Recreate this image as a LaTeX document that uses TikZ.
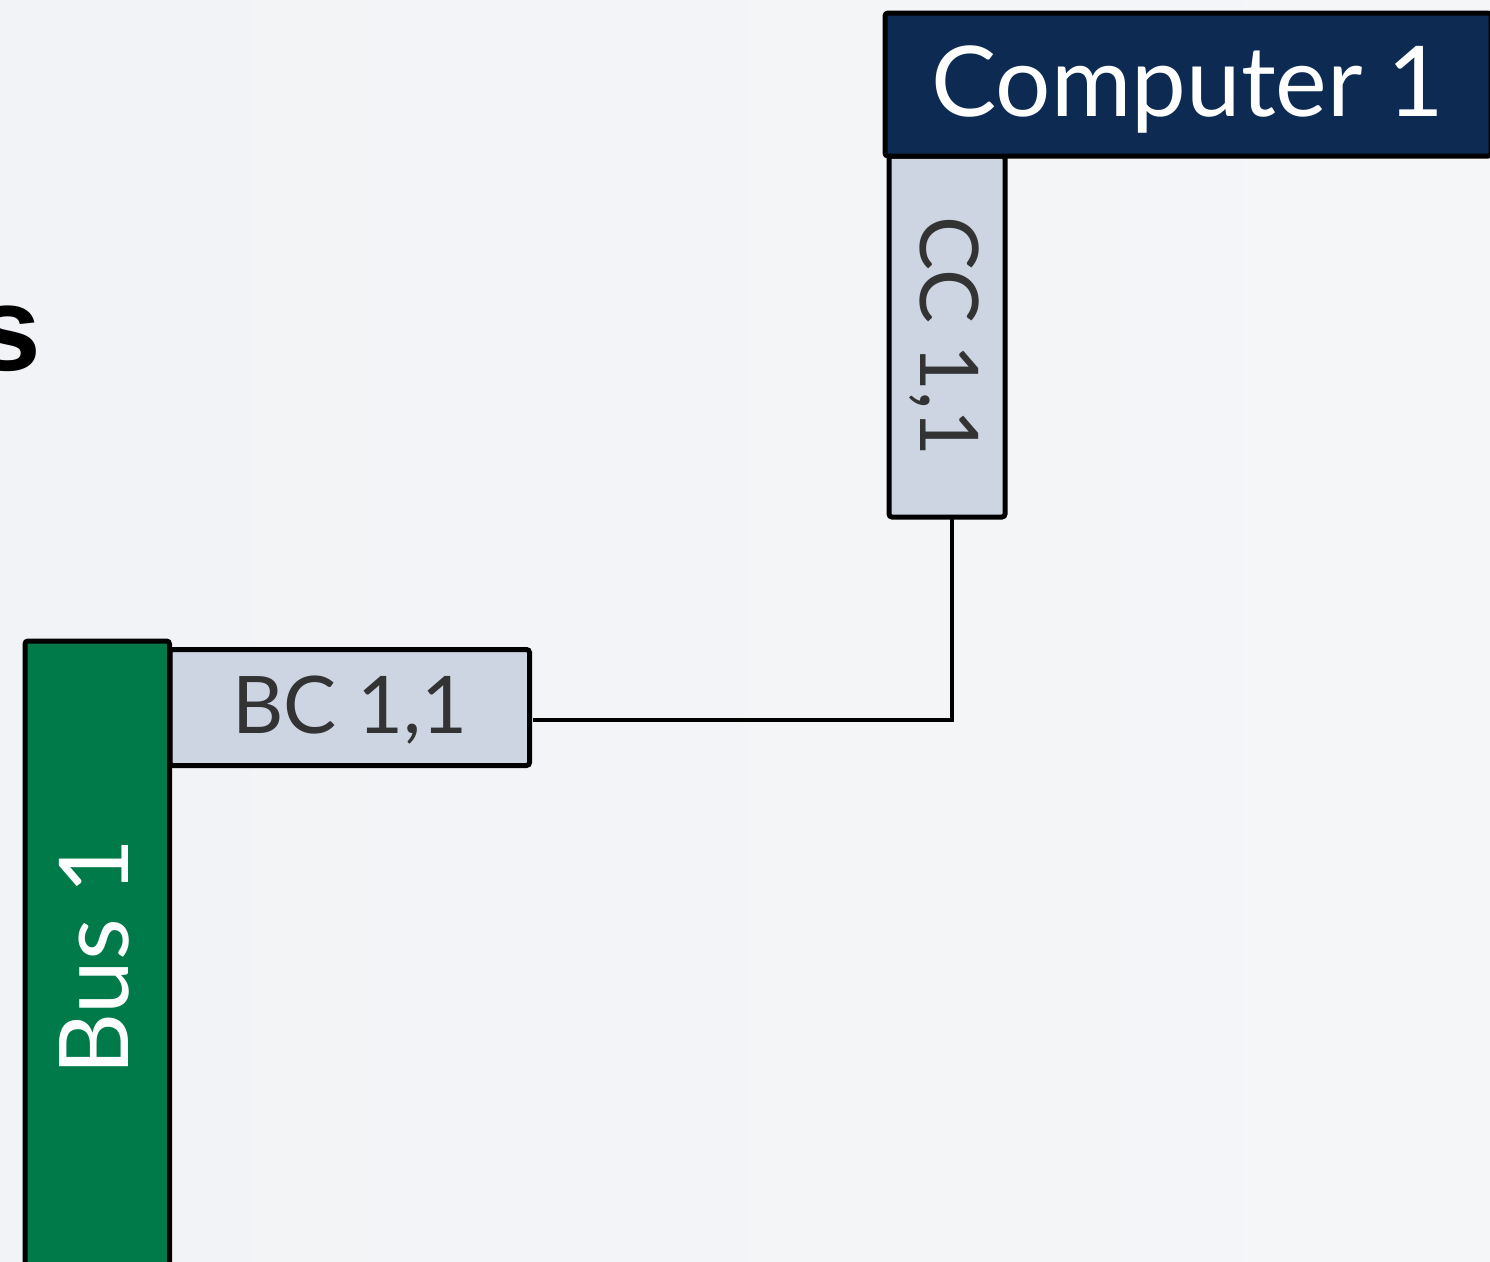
\documentclass[tikz,border=0pt]{standalone}
\usepackage{fontspec}
\setmainfont{Lato}
\newfontfamily\titlefont{Liberation Sans}
\definecolor{bgcol}{HTML}{F2F3F6}
\definecolor{bgcolB}{HTML}{F5F6F8}
\definecolor{navy}{HTML}{0C2A52}
\definecolor{busgreen}{HTML}{007A48}
\definecolor{connfill}{HTML}{CED5E2}
\definecolor{labelgray}{HTML}{333333}
\tikzset{
  box/.style={draw=black, line width=5pt, rounded corners=3pt, inner sep=0pt, outer sep=0pt},
  compbox/.style={box, fill=navy, text=white},
  busbox/.style={box, fill=busgreen, text=white},
  connbox/.style={box, fill=connfill, text=labelgray},
  conn/.style={draw=black, line width=3.5pt},
}
\begin{document}
\begin{tikzpicture}[x=1pt,y=-1pt]
\useasboundingbox (0,0) rectangle (1490,1261);
\clip (0,0) rectangle (1490,1261);
\shade[left color=bgcol, right color=bgcolB] (0,0) rectangle (1490,1261);

% title fragment
\node[anchor=base west, inner sep=0pt, font=\titlefont\bfseries\fontsize{120}{130}\selectfont] (title) at (-26,370) {s};

% computer connector and computer
\node[connbox, rotate=-90, minimum width=361pt, minimum height=116pt,
      text height=58pt, text depth=4pt, font=\fontsize{81}{90}\selectfont] (cc) at (947,336.5) {CC 1,1};
\node[compbox, minimum width=606pt, minimum height=143pt,
      text height=70pt, text depth=6pt, font=\fontsize{97.7}{110}\selectfont] (comp) at (1188,84.5) {Computer 1};

% bus connector and bus
\node[connbox, minimum width=359.5pt, minimum height=116pt,
      text height=57pt, text depth=6pt, font=\fontsize{79.5}{90}\selectfont] (bc) at (349.75,707.5) {BC 1,1};
\node[busbox, rotate=90, minimum width=632pt, minimum height=144.5pt,
      text height=69pt, text depth=7.5pt, font=\fontsize{96.3}{110}\selectfont] (bus) at (97.25,957) {Bus 1};

% link
\draw[conn] ([xshift=5pt]cc.east) |- ([xshift=3pt,yshift=-12.5pt]bc.east);
\end{tikzpicture}
\end{document}
